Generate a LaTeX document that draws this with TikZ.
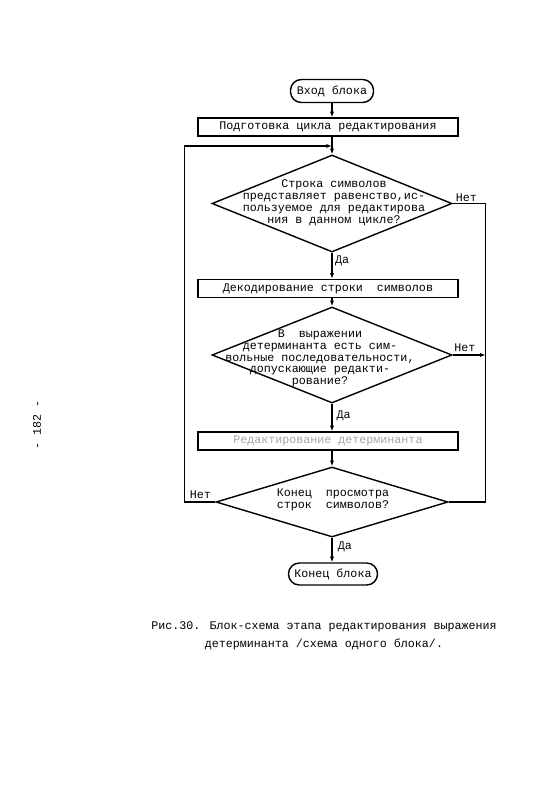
\documentclass[tikz,border=0pt]{standalone}
\usepackage{fontspec}
\setmainfont{Liberation Mono}
\usetikzlibrary{shapes.geometric}
\usetikzlibrary{positioning}
\usetikzlibrary{arrows.meta}
\tikzset{
    term/.style = {rectangle, rounded corners=2.7mm, line width=1pt, draw=black, minimum height=0.575cm, inner sep=1pt},
    procbox/.style = {rectangle, line width=1pt, draw=black, minimum width=6.5cm, minimum height=0.45cm, inner sep=0pt},
    decision/.style = {diamond, line width=1pt, draw=black, inner sep=0pt, minimum width=6cm, minimum height=2.425cm},
    dtext/.style = {align=center, inner sep=0pt},
    lbl/.style = {inner sep=1pt},
    edgen/.style = {-{Latex[length=4pt,width=3pt]}, line width=1pt},
    edgep/.style = {line width=1pt},
}

\begin{document}
\begin{tikzpicture}[font=\fontsize{8.3}{8.4}\selectfont]
  \useasboundingbox (0,0) rectangle (13.75,-20);

  % blocks
  \node[term, minimum width=2.075cm] at (8.3,-2.275) (start) {Вход блока};
  \node[procbox] at (8.2,-3.175) (prep) {Подготовка цикла редактирования};
  \node[decision] at (8.3,-5.0875) (d1) {};
  \node[dtext] at (8.35,-5.07) (t1) {Строка символов\\представляет равенство,ис-\\пользуемое для редактирова\\ния в данном цикле?};
  \node[procbox] at (8.2,-7.2125) (dec) {Декодирование строки~~символов};
  \node[decision, minimum height=2.4cm] at (8.3,-8.875) (d2) {};
  \node[dtext] at (8.0,-8.96) (t2) {В~~выражении\\детерминанта есть сим-\\вольные последовательности,\\допускающие редакти-\\рование?};
  \node[procbox, text=gray!70] at (8.2,-11.025) (edit) {Редактирование детерминанта};
  \node[decision, minimum width=5.8cm, minimum height=1.75cm] at (8.3,-12.55) (d3) {};
  \node[dtext, align=left] at (8.325,-12.5) (t3) {Конец~~просмотра\\строк~~символов?};
  \node[term, minimum width=2.225cm, minimum height=0.55cm] at (8.325,-14.35) (stop) {Конец блока};

  \coordinate (join) at (8.3,-3.65);

  % connectors
  \draw[edgen] (start) -- (start |- prep.north);
  \draw[edgen] (d1.north |- prep.south) -- (d1.north);
  \draw[edgen] (d1.south) -- (d1.south |- dec.north);
  \draw[edgen] (d2.north |- dec.south) -- (d2.north);
  \draw[edgen] (d2.south) -- (d2.south |- edit.north);
  \draw[edgen] (d3.north |- edit.south) -- (d3.north);
  \draw[edgen] (d3.south) -- (d3.south |- stop.north);
  \draw[edgep] (d1.east) -- ++(0.825,0) coordinate (r1) |- (d3.east);
  \draw[edgen] (d2.east) -- (d2.east -| r1);
  \draw[edgen] (d3.west) -- ++(-0.775,0) |- (join);

  % labels
  \node[lbl, above right=0pt and 1pt of d1.east] (n1) {Нет};
  \node[lbl, below right=1pt and 1pt of d1.south] (y1) {Да};
  \node[lbl, above right=1pt and 0pt of d2.east] (n2) {Нет};
  \node[lbl, below right=4pt and 2pt of d2.south] (y2) {Да};
  \node[lbl, above left=1pt and 2pt of d3.west] (n3) {Нет};
  \node[lbl, below right=2pt and 3pt of d3.south] (y3) {Да};

  % caption and page number
  \node[align=center, font=\fontsize{8.3}{12.8}\selectfont] at (8.1,-15.9) (cap) {Рис.30. Блок-схема этапа редактирования выражения\\детерминанта /схема одного блока/.};
  \node[rotate=90] at (0.925,-10.625) (page) {- 182 -};
\end{tikzpicture}
\end{document}
